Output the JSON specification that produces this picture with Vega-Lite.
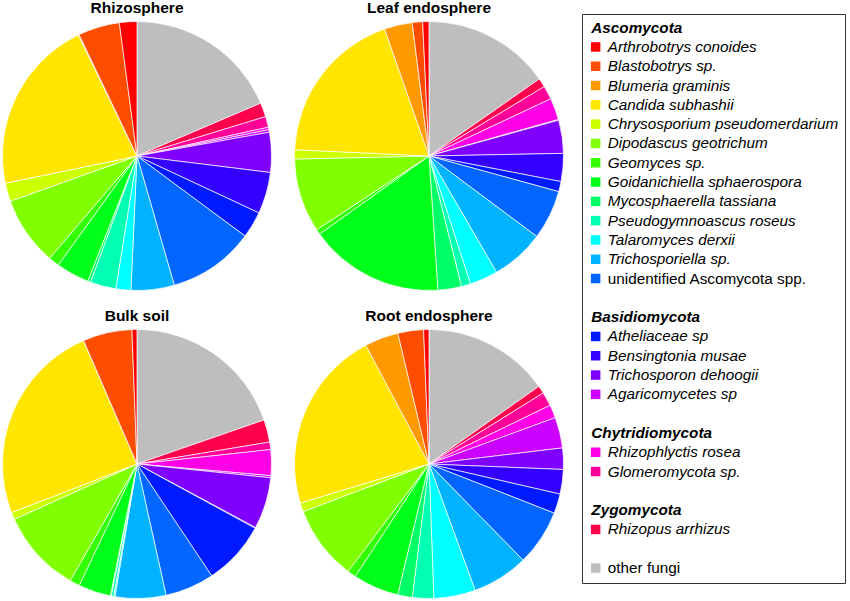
{
  "$schema": "https://vega.github.io/schema/vega-lite/v6.json",
  "padding": {"left": 1, "top": 0, "right": 0, "bottom": 0},
  "background": "white",
  "config": {
    "font": "Liberation Sans",
    "view": {"stroke": null}
  },
  "data": {
    "values": [
      {"sample": "Rhizosphere", "taxon": "other fungi", "pct": 18.6},
      {"sample": "Rhizosphere", "taxon": "Rhizopus arrhizus", "pct": 1.7},
      {"sample": "Rhizosphere", "taxon": "Glomeromycota sp.", "pct": 1.3},
      {"sample": "Rhizosphere", "taxon": "Rhizophlyctis rosea", "pct": 0.3},
      {"sample": "Rhizosphere", "taxon": "Agaricomycetes sp", "pct": 0.3},
      {"sample": "Rhizosphere", "taxon": "Trichosporon dehoogii", "pct": 4.8},
      {"sample": "Rhizosphere", "taxon": "Bensingtonia musae", "pct": 5.0},
      {"sample": "Rhizosphere", "taxon": "Atheliaceae sp", "pct": 3.2},
      {"sample": "Rhizosphere", "taxon": "unidentified Ascomycota spp.", "pct": 10.4},
      {"sample": "Rhizosphere", "taxon": "Trichosporiella sp.", "pct": 5.2},
      {"sample": "Rhizosphere", "taxon": "Talaromyces derxii", "pct": 1.8},
      {"sample": "Rhizosphere", "taxon": "Pseudogymnoascus roseus", "pct": 3.1},
      {"sample": "Rhizosphere", "taxon": "Mycosphaerella tassiana", "pct": 0.35},
      {"sample": "Rhizosphere", "taxon": "Goidanichiella sphaerospora", "pct": 4.0},
      {"sample": "Rhizosphere", "taxon": "Geomyces sp.", "pct": 1.3},
      {"sample": "Rhizosphere", "taxon": "Dipodascus geotrichum", "pct": 8.3},
      {"sample": "Rhizosphere", "taxon": "Chrysosporium pseudomerdarium", "pct": 2.2},
      {"sample": "Rhizosphere", "taxon": "Candida subhashii", "pct": 21.1},
      {"sample": "Rhizosphere", "taxon": "Blumeria graminis", "pct": 0.1},
      {"sample": "Rhizosphere", "taxon": "Blastobotrys sp.", "pct": 5.0},
      {"sample": "Rhizosphere", "taxon": "Arthrobotrys conoides", "pct": 2.1},

      {"sample": "Leaf endosphere", "taxon": "other fungi", "pct": 15.3},
      {"sample": "Leaf endosphere", "taxon": "Rhizopus arrhizus", "pct": 1.08},
      {"sample": "Leaf endosphere", "taxon": "Glomeromycota sp.", "pct": 1.64},
      {"sample": "Leaf endosphere", "taxon": "Rhizophlyctis rosea", "pct": 2.61},
      {"sample": "Leaf endosphere", "taxon": "Agaricomycetes sp", "pct": 0.1},
      {"sample": "Leaf endosphere", "taxon": "Trichosporon dehoogii", "pct": 3.97},
      {"sample": "Leaf endosphere", "taxon": "Bensingtonia musae", "pct": 3.36},
      {"sample": "Leaf endosphere", "taxon": "Atheliaceae sp", "pct": 1.22},
      {"sample": "Leaf endosphere", "taxon": "unidentified Ascomycota spp.", "pct": 5.94},
      {"sample": "Leaf endosphere", "taxon": "Trichosporiella sp.", "pct": 6.42},
      {"sample": "Leaf endosphere", "taxon": "Talaromyces derxii", "pct": 3.39},
      {"sample": "Leaf endosphere", "taxon": "Pseudogymnoascus roseus", "pct": 1.11},
      {"sample": "Leaf endosphere", "taxon": "Mycosphaerella tassiana", "pct": 2.83},
      {"sample": "Leaf endosphere", "taxon": "Goidanichiella sphaerospora", "pct": 16.2},
      {"sample": "Leaf endosphere", "taxon": "Geomyces sp.", "pct": 0.61},
      {"sample": "Leaf endosphere", "taxon": "Dipodascus geotrichum", "pct": 8.89},
      {"sample": "Leaf endosphere", "taxon": "Chrysosporium pseudomerdarium", "pct": 1.11},
      {"sample": "Leaf endosphere", "taxon": "Candida subhashii", "pct": 18.9},
      {"sample": "Leaf endosphere", "taxon": "Blumeria graminis", "pct": 3.36},
      {"sample": "Leaf endosphere", "taxon": "Blastobotrys sp.", "pct": 1.25},
      {"sample": "Leaf endosphere", "taxon": "Arthrobotrys conoides", "pct": 0.75},

      {"sample": "Bulk soil", "taxon": "other fungi", "pct": 19.7},
      {"sample": "Bulk soil", "taxon": "Rhizopus arrhizus", "pct": 2.7},
      {"sample": "Bulk soil", "taxon": "Glomeromycota sp.", "pct": 0.9},
      {"sample": "Bulk soil", "taxon": "Rhizophlyctis rosea", "pct": 3.1},
      {"sample": "Bulk soil", "taxon": "Agaricomycetes sp", "pct": 0.25},
      {"sample": "Bulk soil", "taxon": "Trichosporon dehoogii", "pct": 6.2},
      {"sample": "Bulk soil", "taxon": "Bensingtonia musae", "pct": 0.1},
      {"sample": "Bulk soil", "taxon": "Atheliaceae sp", "pct": 7.7},
      {"sample": "Bulk soil", "taxon": "unidentified Ascomycota spp.", "pct": 5.9},
      {"sample": "Bulk soil", "taxon": "Trichosporiella sp.", "pct": 6.1},
      {"sample": "Bulk soil", "taxon": "Talaromyces derxii", "pct": 0.15},
      {"sample": "Bulk soil", "taxon": "Pseudogymnoascus roseus", "pct": 0.3},
      {"sample": "Bulk soil", "taxon": "Mycosphaerella tassiana", "pct": 0.1},
      {"sample": "Bulk soil", "taxon": "Goidanichiella sphaerospora", "pct": 3.9},
      {"sample": "Bulk soil", "taxon": "Geomyces sp.", "pct": 1.2},
      {"sample": "Bulk soil", "taxon": "Dipodascus geotrichum", "pct": 10.0},
      {"sample": "Bulk soil", "taxon": "Chrysosporium pseudomerdarium", "pct": 0.85},
      {"sample": "Bulk soil", "taxon": "Candida subhashii", "pct": 24.4},
      {"sample": "Bulk soil", "taxon": "Blumeria graminis", "pct": 0},
      {"sample": "Bulk soil", "taxon": "Blastobotrys sp.", "pct": 5.9},
      {"sample": "Bulk soil", "taxon": "Arthrobotrys conoides", "pct": 0.6},

      {"sample": "Root endosphere", "taxon": "other fungi", "pct": 15.2},
      {"sample": "Root endosphere", "taxon": "Rhizopus arrhizus", "pct": 0.94},
      {"sample": "Root endosphere", "taxon": "Glomeromycota sp.", "pct": 1.67},
      {"sample": "Root endosphere", "taxon": "Rhizophlyctis rosea", "pct": 1.58},
      {"sample": "Root endosphere", "taxon": "Agaricomycetes sp", "pct": 3.69},
      {"sample": "Root endosphere", "taxon": "Trichosporon dehoogii", "pct": 2.56},
      {"sample": "Root endosphere", "taxon": "Bensingtonia musae", "pct": 2.94},
      {"sample": "Root endosphere", "taxon": "Atheliaceae sp", "pct": 2.36},
      {"sample": "Root endosphere", "taxon": "unidentified Ascomycota spp.", "pct": 6.72},
      {"sample": "Root endosphere", "taxon": "Trichosporiella sp.", "pct": 6.75},
      {"sample": "Root endosphere", "taxon": "Talaromyces derxii", "pct": 5.0},
      {"sample": "Root endosphere", "taxon": "Pseudogymnoascus roseus", "pct": 2.56},
      {"sample": "Root endosphere", "taxon": "Mycosphaerella tassiana", "pct": 1.75},
      {"sample": "Root endosphere", "taxon": "Goidanichiella sphaerospora", "pct": 5.5},
      {"sample": "Root endosphere", "taxon": "Geomyces sp.", "pct": 1.03},
      {"sample": "Root endosphere", "taxon": "Dipodascus geotrichum", "pct": 8.97},
      {"sample": "Root endosphere", "taxon": "Chrysosporium pseudomerdarium", "pct": 1.06},
      {"sample": "Root endosphere", "taxon": "Candida subhashii", "pct": 21.9},
      {"sample": "Root endosphere", "taxon": "Blumeria graminis", "pct": 4.06},
      {"sample": "Root endosphere", "taxon": "Blastobotrys sp.", "pct": 3.08},
      {"sample": "Root endosphere", "taxon": "Arthrobotrys conoides", "pct": 0.64}
    ]
  },
  "transform": [{"window": [{"op": "row_number", "as": "i"}]}],
  "facet": {
    "field": "sample",
    "type": "nominal",
    "sort": ["Rhizosphere", "Leaf endosphere", "Bulk soil", "Root endosphere"],
    "header": {
      "title": null,
      "labelFont": "Liberation Sans",
      "labelFontSize": 15.5,
      "labelFontWeight": "bold",
      "labelColor": "black",
      "labelPadding": 4
    }
  },
  "columns": 2,
  "spacing": {"column": 20, "row": 16},
  "spec": {
    "width": 270,
    "height": 270,
    "mark": {"type": "arc", "radius": 134.5, "stroke": "white", "strokeWidth": 0.7},
    "encoding": {
      "theta": {"field": "pct", "type": "quantitative", "stack": true},
      "order": {"field": "i", "type": "quantitative"},
      "color": {
        "field": "taxon",
        "type": "nominal",
        "scale": {
          "domain": ["Ascomycota", "Arthrobotrys conoides", "Blastobotrys sp.", "Blumeria graminis", "Candida subhashii", "Chrysosporium pseudomerdarium", "Dipodascus geotrichum", "Geomyces sp.", "Goidanichiella sphaerospora", "Mycosphaerella tassiana", "Pseudogymnoascus roseus", "Talaromyces derxii", "Trichosporiella sp.", "unidentified Ascomycota spp.", "blank1", "Basidiomycota", "Atheliaceae sp", "Bensingtonia musae", "Trichosporon dehoogii", "Agaricomycetes sp", "blank2", "Chytridiomycota", "Rhizophlyctis rosea", "Glomeromycota sp.", "blank3", "Zygomycota", "Rhizopus arrhizus", "blank4", "other fungi"],
          "range": ["transparent", "#FF0000", "#FF4D00", "#FF9900", "#FFE500", "#CCFF00", "#80FF00", "#33FF00", "#00FF19", "#00FF66", "#00FFB2", "#00FFFF", "#00B3FF", "#0066FF", "transparent", "transparent", "#001AFF", "#3300FF", "#7F00FF", "#CC00FF", "transparent", "transparent", "#FF00E6", "#FF0099", "transparent", "transparent", "#FF004D", "transparent", "#BEBEBE"]
        },
        "legend": {
          "orient": "none",
          "legendX": 580,
          "legendY": -7,
          "title": null,
          "symbolType": "square",
          "symbolSize": 90,
          "symbolStrokeWidth": 0,
          "symbolLimit": 50,
          "labelFont": "Liberation Sans",
          "labelFontSize": 15.3,
          "labelColor": "black",
          "labelLimit": 400,
          "labelOffset": {"expr": "indexof(['Ascomycota','Basidiomycota','Chytridiomycota','Zygomycota'], datum.value) >= 0 ? -12 : 4.5"},
          "labelFontWeight": {"expr": "indexof(['Ascomycota','Basidiomycota','Chytridiomycota','Zygomycota'], datum.value) >= 0 ? 'bold' : 'normal'"},
          "labelFontStyle": {"expr": "datum.value == 'other fungi' || datum.value == 'unidentified Ascomycota spp.' ? 'normal' : 'italic'"},
          "rowPadding": 3.3,
          "padding": 6,
          "strokeColor": "#333333",
          "fillColor": "white",
          "labelExpr": "indexof(datum.label, 'blank') == 0 ? ' ' : datum.label",
          "encode": {
            "legend": {"strokeWidth": {"value": 1.8}}
          }
        }
      }
    }
  }
}
